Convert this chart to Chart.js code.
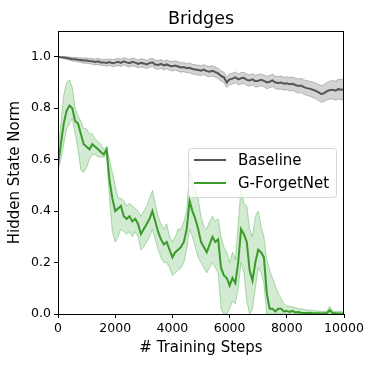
<!DOCTYPE html>
<html>
<head>
<meta charset="utf-8">
<script src="https://cdn.jsdelivr.net/npm/chart.js@4.4.1/dist/chart.umd.min.js"></script>
<style>
  html, body { margin: 0; padding: 0; background: #fff; }
  #wrap { width: 374px; height: 365px; }
</style>
</head>
<body>
<div id="wrap"><canvas id="chart" width="374" height="365"></canvas></div>
<script>
// --- data ---
const TITLE = 'Bridges';
const X_LABEL = '# Training Steps';
const Y_LABEL = 'Hidden State Norm';
const SERIES_NAMES = ['Baseline', 'G-ForgetNet'];

// x grid: every 100 training steps
const steps = Array.from({ length: 101 }, (_, i) => i * 100);

const baseMean = [
  1.00, 0.998, 0.997, 0.995, 0.993, 0.99, 0.99, 0.988, 0.987, 0.985, 0.985,
  0.983, 0.982, 0.98, 0.982, 0.978, 0.978, 0.976, 0.979, 0.975, 0.977,
  0.98, 0.976, 0.982, 0.978, 0.975, 0.98, 0.977, 0.972, 0.976, 0.974,
  0.97, 0.975, 0.978, 0.97, 0.968, 0.972, 0.966, 0.97, 0.965, 0.963,
  0.966, 0.962, 0.958, 0.96, 0.955, 0.957, 0.952, 0.95, 0.948, 0.946,
  0.95, 0.944, 0.942, 0.945, 0.94, 0.935, 0.925, 0.92, 0.90, 0.912,
  0.915, 0.92, 0.912, 0.916, 0.918, 0.91, 0.908, 0.912, 0.905, 0.907,
  0.91, 0.906, 0.90, 0.903, 0.908, 0.90, 0.898, 0.90, 0.895, 0.897,
  0.893, 0.895, 0.89, 0.886, 0.888, 0.882, 0.878, 0.876, 0.872, 0.868,
  0.862, 0.855, 0.858, 0.866, 0.87, 0.872, 0.868, 0.874, 0.872, 0.874
];
const baseSpread = [
  0.0, 0.002, 0.004, 0.005, 0.006, 0.007, 0.008, 0.008, 0.009, 0.01, 0.01,
  0.01, 0.011, 0.011, 0.012, 0.012, 0.012, 0.013, 0.013, 0.013, 0.014,
  0.014, 0.014, 0.014, 0.015, 0.015, 0.015, 0.015, 0.015, 0.016, 0.016,
  0.016, 0.016, 0.016, 0.017, 0.017, 0.017, 0.017, 0.017, 0.017, 0.018,
  0.018, 0.018, 0.018, 0.018, 0.018, 0.019, 0.019, 0.019, 0.019, 0.019,
  0.019, 0.02, 0.02, 0.02, 0.02, 0.02, 0.02, 0.02, 0.02, 0.021,
  0.021, 0.021, 0.021, 0.022, 0.022, 0.022, 0.022, 0.022, 0.023, 0.023,
  0.023, 0.023, 0.024, 0.024, 0.024, 0.024, 0.025, 0.025, 0.025, 0.025,
  0.026, 0.026, 0.027, 0.027, 0.028, 0.028, 0.029, 0.029, 0.03, 0.03,
  0.031, 0.032, 0.033, 0.034, 0.035, 0.036, 0.037, 0.038, 0.039, 0.04
];

const gfMean = [
  0.58, 0.66, 0.74, 0.79, 0.81, 0.80, 0.75, 0.74, 0.70, 0.66,
  0.65, 0.64, 0.66, 0.65, 0.64, 0.63, 0.62, 0.64, 0.52, 0.45,
  0.40, 0.41, 0.42, 0.38, 0.37, 0.38, 0.36, 0.37, 0.35, 0.31,
  0.33, 0.35, 0.37, 0.40, 0.36, 0.32, 0.29, 0.27, 0.28, 0.25,
  0.22, 0.24, 0.25, 0.26, 0.28, 0.33, 0.44, 0.40, 0.37, 0.33,
  0.28, 0.26, 0.24, 0.27, 0.30, 0.28, 0.29, 0.18, 0.15, 0.14,
  0.11, 0.14, 0.12, 0.20, 0.33, 0.31, 0.28, 0.17, 0.13, 0.20,
  0.25, 0.24, 0.22, 0.08, 0.02, 0.02, 0.01, 0.02, 0.02, 0.01,
  0.012, 0.008, 0.012, 0.006, 0.008, 0.005, 0.004, 0.004, 0.005, 0.003,
  0.003, 0.003, 0.002, 0.003, 0.003, 0.015, 0.004, 0.003, 0.002, 0.002,
  0.002
];
const gfLow = [
  0.56, 0.60, 0.66, 0.72, 0.74, 0.76, 0.70, 0.64, 0.56, 0.55,
  0.57, 0.60, 0.62, 0.62, 0.61, 0.61, 0.61, 0.62, 0.45, 0.32,
  0.28, 0.30, 0.33, 0.32, 0.31, 0.32, 0.30, 0.32, 0.30, 0.25,
  0.26, 0.28, 0.30, 0.33, 0.29, 0.25, 0.22, 0.20, 0.20, 0.18,
  0.15, 0.16, 0.17, 0.18, 0.20, 0.25, 0.33, 0.30, 0.26, 0.22,
  0.20, 0.18, 0.16, 0.18, 0.20, 0.18, 0.16, 0.02, 0.00, 0.00,
  0.02, 0.05, 0.04, 0.10, 0.20, 0.16, 0.05, 0.00, 0.02, 0.10,
  0.18, 0.16, 0.12, 0.00, 0.00, 0.00, 0.00, 0.00, 0.00, 0.00,
  0.00, 0.00, 0.00, 0.00, 0.00, 0.00, 0.00, 0.00, 0.00, 0.00,
  0.00, 0.00, 0.00, 0.00, 0.00, 0.00, 0.00, 0.00, 0.00, 0.00,
  0.00
];
const gfHigh = [
  0.62, 0.74, 0.85, 0.90, 0.91, 0.88, 0.80, 0.77, 0.75, 0.72,
  0.72, 0.70, 0.70, 0.68, 0.67, 0.66, 0.64, 0.65, 0.60, 0.55,
  0.50, 0.45, 0.45, 0.44, 0.42, 0.43, 0.42, 0.41, 0.40, 0.38,
  0.40, 0.42, 0.45, 0.48, 0.43, 0.38, 0.35, 0.33, 0.35, 0.30,
  0.28, 0.30, 0.33, 0.33, 0.36, 0.40, 0.56, 0.52, 0.48, 0.45,
  0.38, 0.34, 0.33, 0.36, 0.38, 0.36, 0.37, 0.30, 0.26, 0.24,
  0.20, 0.24, 0.21, 0.35, 0.49, 0.43, 0.42, 0.33, 0.30, 0.38,
  0.40, 0.34, 0.30, 0.21, 0.17, 0.14, 0.11, 0.08, 0.06, 0.04,
  0.03, 0.03, 0.028, 0.025, 0.022, 0.02, 0.018, 0.016, 0.015, 0.014,
  0.012, 0.012, 0.01, 0.01, 0.01, 0.03, 0.012, 0.01, 0.01, 0.01,
  0.008
];

const X_TICKS = [0, 2000, 4000, 6000, 8000, 10000];
const Y_TICKS = [0.0, 0.2, 0.4, 0.6, 0.8, 1.0];

const COLORS = {
  base: '#555555',
  baseBand: 'rgba(128,128,128,0.35)',
  baseEdge: 'rgba(100,100,100,0.5)',
  gf: '#3a9b2a',
  gfBand: 'rgba(44,160,44,0.22)',
  gfEdge: 'rgba(44,160,44,0.45)'
};
const FONT = 'DejaVu Sans';

function pts(arr) {
  return arr.map((v, i) => ({ x: steps[i], y: v }));
}

const baseLow = baseMean.map((v, i) => v - baseSpread[i]);
const baseHigh = baseMean.map((v, i) => v + baseSpread[i]);

// frame, title and legend drawn like the matplotlib original
const framePlugin = {
  id: 'frame',
  afterDraw(chart) {
    const { ctx, chartArea: a } = chart;
    ctx.save();
    ctx.strokeStyle = '#000';
    ctx.lineWidth = 1;
    ctx.strokeRect(a.left + 0.5, a.top + 0.5, a.right - a.left - 1, a.bottom - a.top);

    // title
    ctx.fillStyle = '#000';
    ctx.font = '17.5px "' + FONT + '"';
    ctx.textAlign = 'center';
    ctx.textBaseline = 'alphabetic';
    ctx.fillText(TITLE, (a.left + a.right) / 2, 24);

    // legend box
    const lx = 188, ly = 148, lw = 148, lh = 49;
    ctx.fillStyle = 'rgba(255,255,255,0.8)';
    ctx.strokeStyle = '#d6d6d6';
    ctx.beginPath();
    ctx.roundRect(lx + 0.5, ly + 0.5, lw, lh, 3);
    ctx.fill();
    ctx.stroke();
    const rows = [
      { name: SERIES_NAMES[0], color: COLORS.base, y: 160 },
      { name: SERIES_NAMES[1], color: COLORS.gf, y: 183 }
    ];
    ctx.font = '15px "' + FONT + '"';
    ctx.textAlign = 'left';
    ctx.textBaseline = 'middle';
    rows.forEach(r => {
      ctx.strokeStyle = r.color;
      ctx.lineWidth = 2;
      ctx.beginPath();
      ctx.moveTo(194, r.y);
      ctx.lineTo(226, r.y);
      ctx.stroke();
      ctx.fillStyle = '#000';
      ctx.fillText(r.name, 238, r.y + 1);
    });
    ctx.restore();
  }
};

new Chart(document.getElementById('chart'), {
  type: 'line',
  data: {
    datasets: [
      { label: 'Baseline', data: pts(baseMean), borderColor: COLORS.base, borderWidth: 2, order: 1 },
      { label: 'G-ForgetNet', data: pts(gfMean), borderColor: COLORS.gf, borderWidth: 2, order: 0 },
      { label: 'base_low', data: pts(baseLow), borderColor: COLORS.baseEdge, borderWidth: 0.8, order: 5 },
      { label: 'base_high', data: pts(baseHigh), borderColor: COLORS.baseEdge, borderWidth: 0.8,
        backgroundColor: COLORS.baseBand, fill: 2, order: 4 },
      { label: 'gf_low', data: pts(gfLow), borderColor: COLORS.gfEdge, borderWidth: 0.8, order: 3 },
      { label: 'gf_high', data: pts(gfHigh), borderColor: COLORS.gfEdge, borderWidth: 0.8,
        backgroundColor: COLORS.gfBand, fill: 4, order: 2 }
    ]
  },
  options: {
    responsive: false,
    animation: false,
    clip: 0,
    elements: { point: { radius: 0 }, line: { tension: 0 } },
    layout: { padding: { left: 0, right: 30, top: 31, bottom: 0 } },
    plugins: {
      legend: { display: false },
      tooltip: { enabled: false },
      title: { display: false }
    },
    scales: {
      x: {
        type: 'linear',
        min: 0,
        max: 10000,
        afterBuildTicks: s => { s.ticks = X_TICKS.map(v => ({ value: v })); },
        afterFit: s => { s.height = 51; },
        ticks: { color: '#000', font: { family: FONT, size: 12.5 }, padding: 3, maxRotation: 0,
          callback: v => String(v) },
        grid: { display: true, drawOnChartArea: false, drawTicks: true, tickLength: 4, color: '#000' },
        border: { display: true, color: '#000', width: 1 },
        title: { display: true, text: X_LABEL, color: '#000', font: { family: FONT, size: 15 },
          padding: { top: 0, bottom: 8 } }
      },
      y: {
        min: 0,
        max: 1.1,
        afterBuildTicks: s => { s.ticks = Y_TICKS.map(v => ({ value: v })); },
        afterFit: s => { s.width = 58; },
        ticks: { color: '#000', font: { family: FONT, size: 12.5 }, padding: 3,
          callback: v => Number(v).toFixed(1) },
        grid: { display: true, drawOnChartArea: false, drawTicks: true, tickLength: 4, color: '#000' },
        border: { display: true, color: '#000', width: 1 },
        title: { display: true, text: Y_LABEL, color: '#000', font: { family: FONT, size: 15 },
          padding: { top: 6, bottom: 0 } }
      }
    }
  },
  plugins: [framePlugin]
});
</script>
</body>
</html>
